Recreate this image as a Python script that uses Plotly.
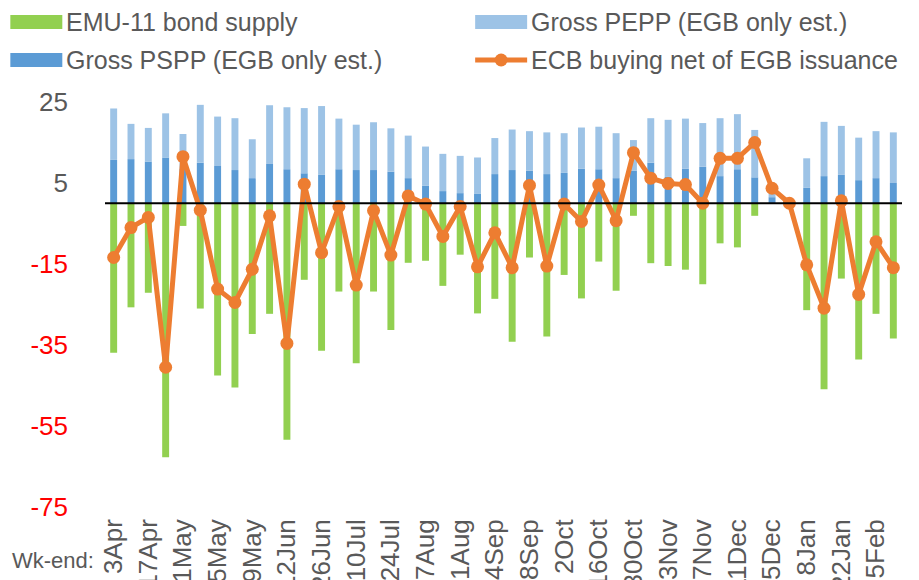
import plotly.graph_objects as go

weeks = ["3Apr", "10Apr", "17Apr", "24Apr", "1May", "8May", "15May", "22May", "29May",
         "5Jun", "12Jun", "19Jun", "26Jun", "3Jul", "10Jul", "17Jul", "24Jul", "31Jul",
         "7Aug", "14Aug", "21Aug", "28Aug", "4Sep", "11Sep", "18Sep", "25Sep",
         "2Oct", "9Oct", "16Oct", "23Oct", "30Oct", "6Nov", "13Nov", "20Nov", "27Nov",
         "4Dec", "11Dec", "18Dec", "25Dec", "1Jan", "8Jan", "15Jan", "22Jan", "29Jan",
         "5Feb", "12Feb"]

emu_supply = [-36.9, -25.7, -22.1, -62.7, -5.6, -26.0, -42.5, -45.5, -32.3, -27.3,
              -58.4, -18.9, -36.4, -21.8, -39.5, -21.8, -31.3, -14.7, -14.2, -20.4,
              -12.7, -27.2, -23.6, -34.2, -13.4, -32.9, -17.7, -23.5, -14.4, -21.6,
              -3.1, -14.8, -15.5, -16.4, -20.0, -9.9, -10.9, -3.1, 0.0, 0.0,
              -26.4, -45.9, -18.6, -38.6, -27.3, -33.4]

gross_pspp = [10.7, 10.9, 10.3, 11.3, 8.5, 10.0, 9.2, 8.2, 6.2, 9.7,
              8.4, 7.4, 7.0, 8.4, 8.2, 8.2, 7.8, 6.2, 4.3, 3.0,
              2.5, 2.3, 7.2, 8.2, 8.0, 7.2, 7.5, 8.5, 8.4, 6.2,
              8.0, 10.0, 6.5, 8.5, 9.0, 6.7, 8.4, 6.4, 1.5, 0.0,
              3.8, 6.7, 7.0, 5.7, 6.2, 5.0]

gross_pepp = [12.7, 8.7, 8.3, 10.9, 8.6, 14.3, 12.2, 12.8, 9.6, 14.5,
              15.3, 16.1, 17.0, 12.5, 11.2, 11.8, 10.7, 10.5, 9.7, 9.2,
              9.2, 9.0, 8.9, 10.0, 9.8, 10.3, 9.8, 10.2, 10.5, 11.1,
              7.6, 11.0, 14.1, 12.4, 10.8, 14.3, 13.6, 11.7, 2.2, 0.0,
              7.3, 13.4, 12.1, 10.5, 11.6, 12.5]

ecb_net = [-13.4, -6.0, -3.5, -40.5, 11.5, -1.7, -21.2, -24.5, -16.3, -3.1,
           -34.6, 4.7, -12.2, -0.8, -20.2, -1.8, -12.8, 1.8, -0.2, -8.2,
           -0.8, -15.7, -7.3, -15.9, 4.4, -15.5, -0.2, -4.5, 4.5, -4.3,
           12.5, 6.2, 4.9, 4.6, 0.0, 11.1, 11.1, 15.0, 3.7, 0.0,
           -15.2, -25.9, 0.6, -22.5, -9.5, -15.9]

y_ticks = [25, 5, -15, -35, -55, -75]

C_GREEN = "#92D050"
C_LBLUE = "#9DC3E6"
C_DBLUE = "#5B9BD5"
C_ORANGE = "#ED7D31"
C_TEXT = "#595959"
FONT = "Liberation Sans, Arial, sans-serif"

W, H = 919, 580
OFF = 8  # page body margin offset (screen px = figure px + OFF)
# plot area in screen pixels: x 104.7..902, y 102..507
ML = 104.7 - OFF
MT = 102 - OFF
MR = W - (902 - OFF)
MB = H - (507 - OFF)
PW, PH = W - ML - MR, H - MT - MB


def px_x(sx):
    return (sx - OFF - ML) / PW


def px_y(sy):
    return (H - MB - (sy - OFF)) / PH


fig = go.Figure()
fig.add_trace(go.Bar(x=weeks, y=emu_supply, name="EMU-11 bond supply",
                     marker=dict(color=C_GREEN, line=dict(width=0)), width=0.4))
fig.add_trace(go.Bar(x=weeks, y=gross_pspp, name="Gross PSPP (EGB only est.)",
                     marker=dict(color=C_DBLUE, line=dict(width=0)), width=0.4))
fig.add_trace(go.Bar(x=weeks, y=gross_pepp, name="Gross PEPP (EGB only est.)",
                     marker=dict(color=C_LBLUE, line=dict(width=0)), width=0.4))
fig.add_trace(go.Scatter(x=weeks, y=ecb_net, name="ECB buying net of EGB issuance",
                         mode="lines+markers",
                         line=dict(color=C_ORANGE, width=5),
                         marker=dict(color=C_ORANGE, size=13)))

tick_text = []
for v in y_ticks:
    col = C_TEXT if v > 0 else "#FF0000"
    tick_text.append(f"<span style='color:{col}'>{v}</span>")

shapes = [dict(type="line", xref="paper", yref="y", x0=0, x1=1, y0=0, y1=0,
               line=dict(color="black", width=2), layer="above")]

# manual legend (screen pixel positions)
legend_items = [
    ("EMU-11 bond supply", C_GREEN, 10, 22, "bar"),
    ("Gross PEPP (EGB only est.)", C_LBLUE, 475, 22, "bar"),
    ("Gross PSPP (EGB only est.)", C_DBLUE, 10, 60, "bar"),
    ("ECB buying net of EGB issuance", C_ORANGE, 475, 60, "line"),
]
annotations = []
for label, col, lx, ly, kind in legend_items:
    if kind == "bar":
        shapes.append(dict(type="rect", xref="paper", yref="paper",
                           x0=px_x(lx), x1=px_x(lx + 52), y0=px_y(ly + 7), y1=px_y(ly - 7),
                           fillcolor=col, line=dict(width=0)))
    else:
        shapes.append(dict(type="line", xref="paper", yref="paper",
                           x0=px_x(lx), x1=px_x(lx + 52), y0=px_y(ly), y1=px_y(ly),
                           line=dict(color=col, width=5)))
        shapes.append(dict(type="circle", xref="paper", yref="paper",
                           x0=px_x(lx + 26 - 6.5), x1=px_x(lx + 26 + 6.5),
                           y0=px_y(ly + 6.5), y1=px_y(ly - 6.5),
                           fillcolor=col, line=dict(width=0)))
    annotations.append(dict(text=label, xref="paper", yref="paper",
                            x=px_x(lx + 55), y=px_y(ly), xanchor="left", yanchor="middle",
                            showarrow=False, borderpad=0,
                            font=dict(family=FONT, size=25, color=C_TEXT)))

annotations.append(dict(text="Wk-end:", xref="paper", yref="paper",
                        x=px_x(11), y=px_y(560), xanchor="left", yanchor="middle",
                        showarrow=False, borderpad=0,
                        font=dict(family=FONT, size=22, color=C_TEXT)))

fig.update_layout(
    width=W, height=H, autosize=False,
    margin=dict(l=ML, r=MR, t=MT, b=MB, pad=0),
    paper_bgcolor="white", plot_bgcolor="white",
    barmode="relative", bargap=0.6,
    showlegend=False,
    font=dict(family=FONT, size=26, color=C_TEXT),
    shapes=shapes, annotations=annotations,
    xaxis=dict(type="category", categoryorder="array", categoryarray=weeks,
               range=[-0.5, len(weeks) - 0.5],
               tickmode="array", tickvals=weeks[::2], ticktext=weeks[::2],
               tickangle=-90, tickfont=dict(family=FONT, size=26, color=C_TEXT),
               showgrid=False, showline=False, zeroline=False, ticks="",
               automargin=False, ticklabelstandoff=6),
    yaxis=dict(range=[-75, 25], tickmode="array", tickvals=y_ticks, ticktext=tick_text,
               tickfont=dict(family=FONT, size=26, color=C_TEXT),
               showgrid=False, showline=False, zeroline=False, ticks="",
               automargin=False, ticklabelstandoff=36),
)

fig.write_html("out.html")
